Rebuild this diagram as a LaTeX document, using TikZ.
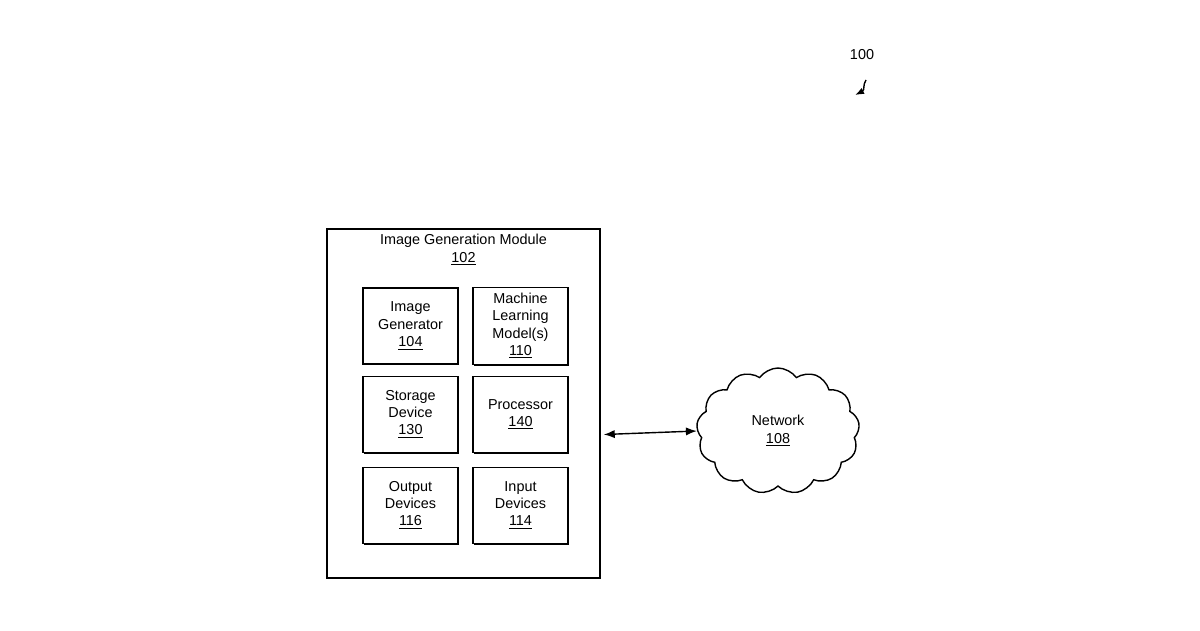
\documentclass[tikz,border=0pt]{standalone}
\usepackage{fontspec}
\setmainfont{Liberation Sans}
\usetikzlibrary{shapes.symbols,shadows,calc,arrows.meta}

\begin{document}
\begin{tikzpicture}[
        every node/.style={font=\fontsize{8.2}{9.8}\selectfont, align=center},
        blockbox/.style={draw, thick, fill=white, minimum width=1.9cm, minimum height=1.52cm,
            drop shadow={shadow xshift=0.7pt, shadow yshift=-0.7pt, fill=black, opacity=1}},
        modbox/.style={blockbox, minimum width=5.46cm, minimum height=6.98cm}
    ]
    \useasboundingbox (0,0) rectangle (24,12.6);

    % module and its parts
    \node[modbox] (mod) at (9.27,4.53) {};
    \node (modlabel) at (9.27,7.6) {Image Generation Module\\\underline{102}};
    \node[blockbox] (gen) at (8.21,6.08) {Image\\Generator\\\underline{104}};
    \node[blockbox] (ml) at (10.41,6.08) {Machine\\Learning\\Model(s)\\\underline{110}};
    \node[blockbox] (store) at (8.21,4.31) {Storage\\Device\\\underline{130}};
    \node[blockbox] (proc) at (10.41,4.31) {Processor\\\underline{140}};
    \node[blockbox] (out) at (8.21,2.49) {Output\\Devices\\\underline{116}};
    \node[blockbox] (in) at (10.41,2.49) {Input\\Devices\\\underline{114}};

    % network
    \node[cloud, draw, thick, cloud puffs=13, cloud puff arc=110, aspect=1.3,
        minimum width=3.26cm, minimum height=2.52cm] (net) at (15.56,3.98) {Network\\\underline{108}};
    \draw[thick, {Latex[length=2.2mm]}-{Latex[length=2.2mm]}] ($(mod.east)+(0.06,-0.62)$) -- (net.west);

    % reference numeral
    \node (ref) at (17.24,11.5) {100};
    \coordinate (reftip) at (17.1,10.7);
    \draw[thick, -{Latex[length=1.8mm]}] (17.32,11.0) .. controls (17.25,10.9) and (17.3,10.8) .. (reftip);
\end{tikzpicture}
\end{document}
